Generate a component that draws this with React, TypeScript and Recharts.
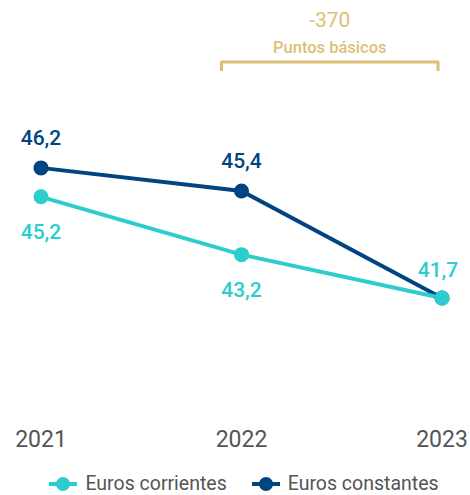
import React from 'react';
import { LineChart, Line, XAxis, YAxis, Legend, LabelList, ReferenceLine } from 'recharts';

const years = ['2021', '2022', '2023'];
const eurosCorrientes = [45.2, 43.2, 41.7];
const eurosConstantes = [46.2, 45.4, 41.7];
const seriesNames = ['Euros corrientes', 'Euros constantes'];
const annotationValue = '-370';
const annotationLabel = 'Puntos básicos';
const bracketYears = ['2022', '2023'];
const bracketLevel = 49.86;

const TEAL = '#2dcccd';
const NAVY = '#004481';
const GOLD = '#dcc174';
const GRAY = '#555555';
const FONT = 'Roboto, "Noto Sans", sans-serif';

const data = years.map((y, i) => ({
  year: y,
  corrientes: eurosCorrientes[i],
  constantes: eurosConstantes[i],
}));

const fmt = (v: number) => v.toFixed(1).replace('.', ',');

const TealLabel = (props: any) => {
  const { x, y, value, index } = props;
  const last = index === years.length - 1;
  return (
    <text
      x={last ? x - 4 : x}
      y={last ? y - 28 : y + 35}
      textAnchor="middle"
      dominantBaseline="central"
      fill={TEAL}
      fontSize={21}
      fontWeight={500}
      fontFamily={FONT}
    >
      {fmt(value)}
    </text>
  );
};

const NavyLabel = (props: any) => {
  const { x, y, value, index } = props;
  if (index === years.length - 1) return null;
  return (
    <text
      x={x}
      y={y - 30}
      textAnchor="middle"
      dominantBaseline="central"
      fill={NAVY}
      fontSize={21}
      fontWeight={500}
      fontFamily={FONT}
    >
      {fmt(value)}
    </text>
  );
};

const Bracket = (props: any) => {
  const { x1, x2, y1 } = props;
  const left = x1 - 20;
  const right = x2 - 4;
  const cx = (left + right) / 2;
  return (
    <g>
      <path
        d={`M${left},${y1 + 9} L${left},${y1} L${right},${y1} L${right},${y1 + 9}`}
        fill="none"
        stroke={GOLD}
        strokeWidth={3}
        strokeLinejoin="round"
      />
      <text x={cx} y={y1 - 42} textAnchor="middle" dominantBaseline="central" fill={GOLD} fontSize={21} fontFamily={FONT}>
        {annotationValue}
      </text>
      <text x={cx} y={y1 - 15} textAnchor="middle" dominantBaseline="central" fill={GOLD} fontSize={16.5} fontWeight={500} fontFamily={FONT}>
        {annotationLabel}
      </text>
    </g>
  );
};

const LegendContent = () => {
  const colors = [TEAL, NAVY];
  return (
    <div style={{ display: 'flex', justifyContent: 'center', gap: 24, fontFamily: FONT, fontSize: 19.5, color: GRAY, paddingTop: 22, marginLeft: 4 }}>
      {seriesNames.map((n, i) => (
        <div key={n} style={{ display: 'flex', alignItems: 'center' }}>
          <svg width={30} height={16} style={{ marginRight: 7 }}>
            <line x1={1} y1={8} x2={29} y2={8} stroke={colors[i]} strokeWidth={4} />
            <circle cx={15} cy={8} r={7} fill={colors[i]} />
          </svg>
          <span>{n}</span>
        </div>
      ))}
    </div>
  );
};

export default function App() {
  return (
    <div style={{ position: 'absolute', top: 0, left: 0, width: 470, height: 495, background: '#fff' }}>
      <LineChart width={470} height={495} data={data} margin={{ top: 58, right: 28, bottom: 5, left: 41 }}>
        <XAxis
          dataKey="year"
          axisLine={false}
          tickLine={false}
          height={45}
          tickMargin={20}
          interval={0}
          tick={{ fill: GRAY, fontSize: 23, fontFamily: FONT }}
        />
        <YAxis hide domain={[38, 50]} />
        <ReferenceLine
          segment={[{ x: bracketYears[0], y: bracketLevel }, { x: bracketYears[1], y: bracketLevel }]}
          ifOverflow="visible"
          shape={<Bracket />}
        />
        <Line
          dataKey="constantes"
          name={seriesNames[1]}
          stroke={NAVY}
          strokeWidth={4}
          dot={{ r: 7.5, fill: NAVY, stroke: NAVY, strokeWidth: 0 }}
          isAnimationActive={false}
        >
          <LabelList dataKey="constantes" content={<NavyLabel />} />
        </Line>
        <Line
          dataKey="corrientes"
          name={seriesNames[0]}
          stroke={TEAL}
          strokeWidth={4}
          dot={{ r: 7.5, fill: TEAL, stroke: TEAL, strokeWidth: 0 }}
          isAnimationActive={false}
        >
          <LabelList dataKey="corrientes" content={<TealLabel />} />
        </Line>
        <Legend verticalAlign="bottom" content={<LegendContent />} wrapperStyle={{ height: 40 }} />
      </LineChart>
    </div>
  );
}
